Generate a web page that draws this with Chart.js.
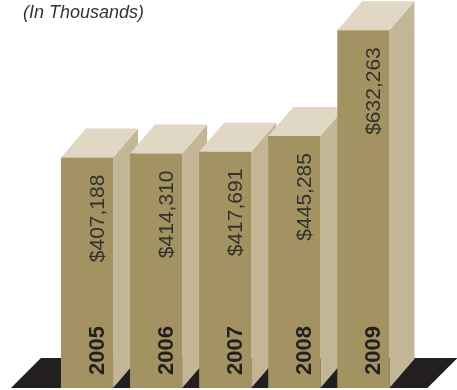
<!DOCTYPE html>
<html>
<head>
<meta charset="utf-8">
<script src="https://cdn.jsdelivr.net/npm/chart.js@4/dist/chart.umd.min.js"></script>
<style>
  html, body { margin: 0; padding: 0; background: #fff; }
  #wrap { position: relative; width: 457px; height: 390px; }
  #units {
    position: absolute; left: 23px; top: 2px;
    font: italic 18px "Liberation Sans", Arial, sans-serif;
    color: #333;
  }
</style>
</head>
<body>
<div id="wrap">
  <canvas id="chart"></canvas>
  <div id="units">(In Thousands)</div>
</div>
<script>
// Revenue by year, in thousands
const years = ['2005', '2006', '2007', '2008', '2009'];
const revenue = [407188, 414310, 417691, 445285, 632263];

const FRONT = '#A39262';
const SIDE = '#C3B696';
const TOP = '#E0D8C5';
const FLOOR = '#231F20';
const DX = 25, DY = 29;   // bar depth offset

function quad(ctx, color, pts) {
  ctx.fillStyle = color;
  ctx.beginPath();
  ctx.moveTo(pts[0][0], pts[0][1]);
  for (let i = 1; i < pts.length; i++) ctx.lineTo(pts[i][0], pts[i][1]);
  ctx.closePath();
  ctx.fill();
}

// floor + side/top faces behind the flat bars, labels on top
const bar3d = {
  id: 'bar3d',
  beforeDatasetsDraw(chart) {
    const { ctx, chartArea: a } = chart;
    ctx.save();
    const fl = a.left - 41.5, fr = a.right + 29.5;
    quad(ctx, FLOOR, [[fl, a.bottom], [fr, a.bottom], [fr + 30, a.bottom - 30], [fl + 30, a.bottom - 30]]);
    chart.getDatasetMeta(0).data.forEach(bar => {
      const l = bar.x - bar.width / 2, r = bar.x + bar.width / 2, t = bar.y, b = bar.base;
      quad(ctx, SIDE, [[r, t], [r + DX, t - DY], [r + DX, b - DY], [r, b]]);
      quad(ctx, TOP, [[l, t], [r, t], [r + DX, t - DY], [l + DX, t - DY]]);
    });
    ctx.restore();
  },
  afterDatasetsDraw(chart) {
    const { ctx } = chart;
    chart.getDatasetMeta(0).data.forEach((bar, i) => {
      const l = bar.x - bar.width / 2;
      ctx.save();
      ctx.textBaseline = 'alphabetic';
      // value, reading upward from below the top edge
      ctx.translate(l + 43, bar.y + 17);
      ctx.rotate(-Math.PI / 2);
      ctx.textAlign = 'right';
      ctx.fillStyle = '#34322c';
      ctx.font = '21px "Liberation Sans", Arial, sans-serif';
      ctx.fillText('$' + revenue[i].toLocaleString('en-US'), 0, 0);
      ctx.restore();

      ctx.save();
      ctx.translate(l + 43, bar.base - 13);
      ctx.rotate(-Math.PI / 2);
      ctx.textAlign = 'left';
      ctx.fillStyle = '#231F20';
      ctx.font = 'bold 22px "Liberation Sans", Arial, sans-serif';
      ctx.fillText(years[i], 0, 0);
      ctx.restore();
    });
  }
};

new Chart(document.getElementById('chart'), {
  type: 'bar',
  data: {
    labels: years,
    datasets: [{
      data: revenue,
      backgroundColor: FRONT,
      borderWidth: 0,
      barPercentage: 0.754,
      categoryPercentage: 1
    }]
  },
  options: {
    responsive: true,
    maintainAspectRatio: false,
    animation: false,
    devicePixelRatio: 1,
    layout: { padding: { left: 52.45, right: 59.1, top: 24, bottom: 2 } },
    plugins: { legend: { display: false }, tooltip: { enabled: false } },
    scales: {
      x: { display: false },
      y: { display: false, min: 0, max: 643300 }
    }
  },
  plugins: [bar3d]
});
</script>
</body>
</html>
